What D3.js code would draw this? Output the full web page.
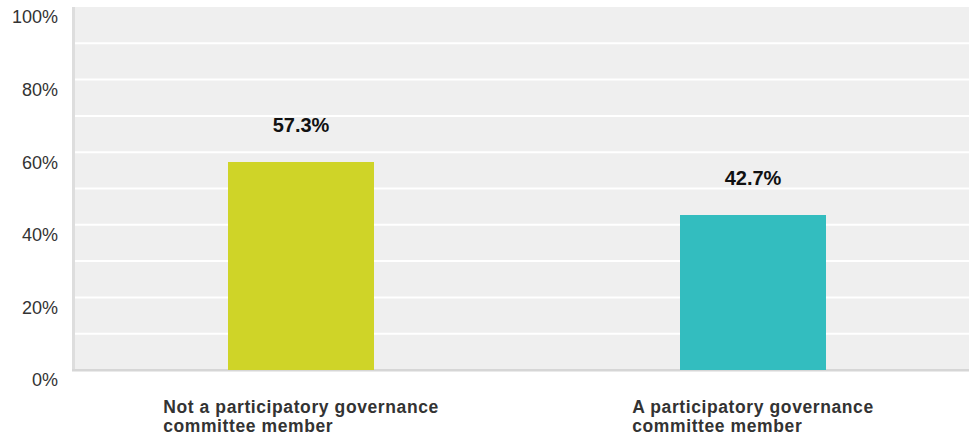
<!DOCTYPE html>
<head>
  <meta charset="utf-8">
  <script src="https://d3js.org/d3.v7.min.js"></script>
  <style>
  body { margin: 0; background: #fff; }
  #chart text { font-family: "Liberation Sans", Arial, sans-serif; }
  </style>
</head>

<body>
  <svg id="chart"></svg>
  <script>
    var categories = [
      ["Not a participatory governance", "committee member"],
      ["A participatory governance", "committee member"]
    ];
    var values = [57.3, 42.7];
    var colors = ["#cfd428", "#33bdbf"];
    var tickValues = [0, 20, 40, 60, 80, 100];
    var gridValues = [10, 20, 30, 40, 50, 60, 70, 80, 90];

    var width = 969,
        height = 445,
        plotLeft = 75, plotTop = 7, plotRight = 979, plotBottom = 370;

    var chart = d3.select('#chart')
        .attr('width', width)
        .attr('height', height);

    var y = d3.scaleLinear()
        .domain([0, 100])
        .range([plotBottom, plotTop]);

    var x = d3.scaleBand()
        .domain(d3.range(values.length))
        .range([plotLeft, plotRight]);

    var barWidth = x.bandwidth() * 0.323;

    // plot background
    chart.append('rect')
        .attr('x', plotLeft)
        .attr('y', plotTop)
        .attr('width', width - plotLeft)
        .attr('height', plotBottom - plotTop)
        .style('fill', '#efefef');

    chart.selectAll('line.grid')
        .data(gridValues)
      .enter().append('line')
        .attr('class', 'grid')
        .attr('x1', plotLeft)
        .attr('x2', width)
        .attr('y1', function(d) { return y(d); })
        .attr('y2', function(d) { return y(d); })
        .style('stroke', '#fff')
        .style('stroke-width', 2);

    // left and bottom borders
    chart.append('rect')
        .attr('x', plotLeft - 3)
        .attr('y', plotTop)
        .attr('width', 3)
        .attr('height', plotBottom - plotTop + 1)
        .style('fill', '#dddddd');
    chart.append('rect')
        .attr('x', plotLeft - 3)
        .attr('y', plotBottom - 1)
        .attr('width', width - plotLeft + 3)
        .attr('height', 2.5)
        .style('fill', '#d6d6d6');

    chart.selectAll('text.tick')
        .data(tickValues)
      .enter().append('text')
        .attr('class', 'tick')
        .attr('x', 58)
        .attr('y', function(d) { return y(d) + 10; })
        .attr('dy', '0.35em')
        .attr('text-anchor', 'end')
        .style('font-size', '18px')
        .style('fill', '#333')
        .text(function(d) { return d + '%'; });

    var bar = chart.selectAll('g.bar')
        .data(values)
      .enter().append('g')
        .attr('class', 'bar')
        .attr('transform', function(d, i) { return 'translate(' + (x(i) + x.bandwidth() / 2) + ')'; });

    bar.append('rect')
        .attr('x', -barWidth / 2)
        .attr('y', function(d) { return y(d); })
        .attr('width', barWidth)
        .attr('height', function(d) { return plotBottom - y(d); })
        .style('fill', function(d, i) { return colors[i]; });

    bar.append('text')
        .attr('y', function(d) { return y(d) - 30; })
        .attr('text-anchor', 'middle')
        .style('font-size', '20px')
        .style('font-weight', 'bold')
        .style('fill', '#111')
        .text(function(d) { return d.toFixed(1) + '%'; });

    // category labels: left aligned block centred under the bar
    bar.each(function(d, i) {
      var g = d3.select(this).append('g');
      var lines = g.selectAll('text')
          .data(categories[i])
        .enter().append('text')
          .attr('y', function(t, j) { return 413 + j * 19; })
          .style('font-size', '17.5px')
          .style('letter-spacing', '0.6px')
          .style('font-weight', 'bold')
          .style('fill', '#333')
          .text(function(t) { return t; });
      var w = d3.max(lines.nodes(), function(n) { return n.getComputedTextLength(); });
      lines.attr('x', -w / 2);
    });
  </script>
</body>
